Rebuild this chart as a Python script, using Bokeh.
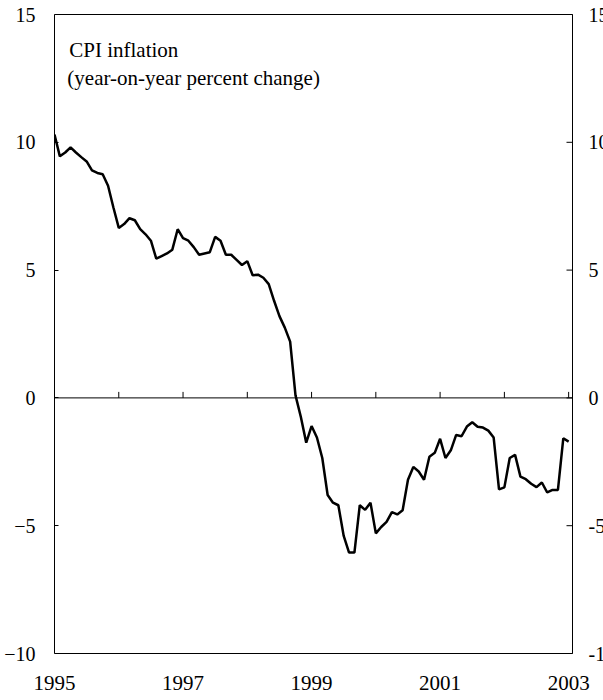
from bokeh.plotting import figure
from bokeh.models import FixedTicker, Label, Range1d
from bokeh.core.properties import value
from bokeh.embed import file_html
from bokeh.resources import INLINE

# Monthly CPI inflation (year-on-year % change), Jan 1995 .. Jan 2003
start_year = 1995
cpi = [
    10.3, 9.45, 9.6, 9.8, 9.6, 9.42, 9.25, 8.9, 8.8, 8.75, 8.3, 7.45,      # 1995
    6.65, 6.8, 7.03, 6.95, 6.6, 6.4, 6.15, 5.45, 5.55, 5.65, 5.8, 6.6,     # 1996
    6.25, 6.15, 5.9, 5.6, 5.65, 5.7, 6.3, 6.15, 5.6, 5.6, 5.4, 5.2,        # 1997
    5.35, 4.8, 4.82, 4.7, 4.45, 3.8, 3.2, 2.75, 2.2, 0.1, -0.75, -1.75,    # 1998
    -1.1, -1.55, -2.35, -3.8, -4.1, -4.2, -5.4, -6.05, -6.05, -4.2, -4.38, -4.1,  # 1999
    -5.3, -5.05, -4.85, -4.47, -4.56, -4.4, -3.2, -2.7, -2.88, -3.2, -2.3, -2.15, # 2000
    -1.6, -2.35, -2.05, -1.45, -1.5, -1.12, -0.95, -1.13, -1.16, -1.28, -1.55, -3.58, # 2001
    -3.5, -2.35, -2.23, -3.08, -3.18, -3.36, -3.49, -3.31, -3.7, -3.6, -3.6, -1.58,   # 2002
    -1.71,                                                                  # 2003
]
x_tick_years = [1995, 1997, 1999, 2001, 2003]
y_tick_values = [-10, -5, 0, 5, 10, 15]
y_tick_labels = [str(v) for v in y_tick_values]
zero_tick_years = [1995, 1996, 1997, 1998, 1999, 2000, 2001, 2002, 2003]
title_lines = ["CPI inflation", "(year-on-year percent change)"]

dates = [start_year + i / 12 for i in range(len(cpi))]

FONT = "Liberation Serif"
# the boxed chart area
X_START, X_END = 1995.0, 2003.06
Y_START, Y_END = -10, 15
# drawing area extends past the box so the right-hand labels run off the page
PX_PER_YEAR = 518 / (X_END - X_START)
PX_PER_UNIT = 639 / (Y_END - Y_START)
x_range = Range1d(X_START, X_START + 549 / PX_PER_YEAR)
y_range = Range1d(Y_START - 12 / PX_PER_UNIT, Y_END + 14 / PX_PER_UNIT)

p = figure(width=603, height=700, output_backend="svg", toolbar_location=None,
           x_range=x_range, y_range=y_range,
           min_border_left=54, min_border_right=0, min_border_top=0,
           min_border_bottom=35)
p.xgrid.visible = False
p.ygrid.visible = False
p.outline_line_color = None
p.background_fill_color = "white"
p.border_fill_color = "white"

# bottom axis (labels only; box line drawn below)
xa = p.xaxis[0]
xa.ticker = FixedTicker(ticks=x_tick_years)
xa.major_tick_in = 0
xa.major_tick_out = 0
xa.minor_tick_line_color = None
xa.axis_line_color = None
xa.major_label_text_font = FONT
xa.major_label_text_font_size = "21px"
xa.major_label_text_color = "black"
xa.major_label_standoff = 10

# left axis
ya = p.yaxis[0]
ya.ticker = FixedTicker(ticks=y_tick_values)
ya.bounds = (Y_START, Y_END)
ya.major_tick_in = 4
ya.major_tick_out = 0
ya.minor_tick_line_color = None
ya.axis_line_color = "black"
ya.major_label_text_font = FONT
ya.major_label_text_font_size = "20px"
ya.major_label_text_color = "black"
ya.major_label_standoff = 19

# box: top, right, bottom edges, plus the zero line
p.segment(x0=[X_START, X_END, X_START, X_START], y0=[Y_END, Y_START, Y_START, 0],
          x1=[X_END, X_END, X_END, X_END], y1=[Y_END, Y_END, Y_START, 0],
          line_color="black", line_width=1)

# right-hand scale: inward ticks and labels (cut by the page edge)
p.ray(x=[X_END] * len(y_tick_values), y=y_tick_values, length=6,
      length_units="screen", angle=3.14159265, line_color="black", line_width=1)
p.text(x=[X_END] * len(y_tick_values), y=y_tick_values, text=y_tick_labels,
       x_offset=16, text_font=value(FONT), text_font_size="20px",
       text_baseline="middle", text_align="left", text_color="black")

# small upward year ticks on the zero line
p.ray(x=zero_tick_years, y=[0] * len(zero_tick_years), length=6,
      length_units="screen", angle=1.5707963, line_color="black", line_width=1)

# series
p.line(dates, cpi, line_color="black", line_width=2.5)

# title text
p.add_layout(Label(x=1995.23, y=13.6, text=title_lines[0], text_font=FONT,
                   text_font_size="21px", text_baseline="alphabetic",
                   text_color="black"))
p.add_layout(Label(x=1995.2, y=12.52, text=title_lines[1], text_font=FONT,
                   text_font_size="21px", text_baseline="alphabetic",
                   text_color="black"))

open("out.html", "w").write(file_html(p, INLINE))
